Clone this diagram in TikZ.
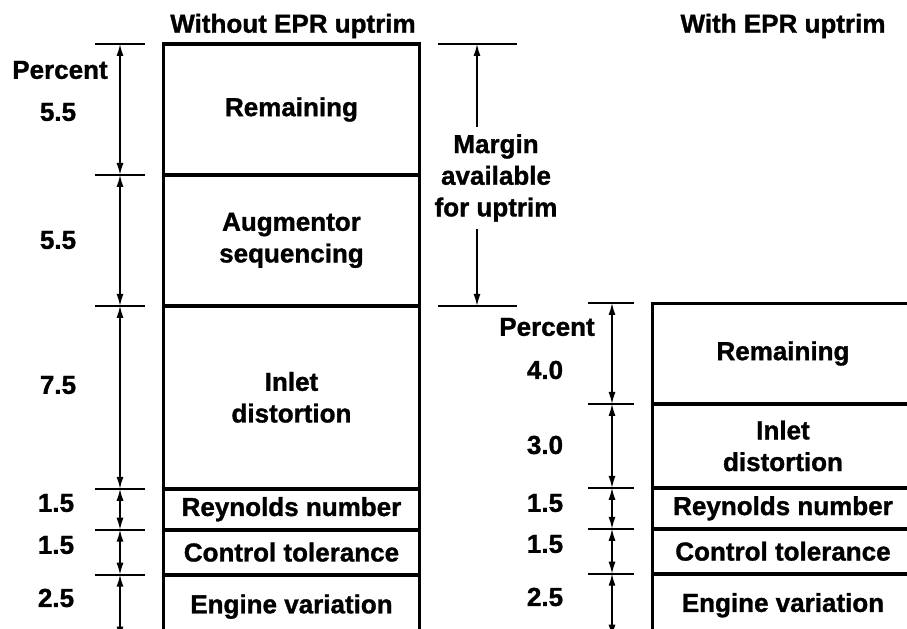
\documentclass[tikz,border=0pt]{standalone}
\usepackage{fontspec}
\setmainfont{Liberation Sans}[BoldFeatures={FakeBold=1.2}]
\usetikzlibrary{positioning,arrows.meta}

\begin{document}
\begin{tikzpicture}[node distance=0pt,
  every node/.style={font=\fontsize{14.8}{18}\selectfont\bfseries},
  seg/.style={draw, rectangle, line width=1.1pt, minimum width=5.1cm, inner sep=0pt, align=center},
  segR/.style={seg, minimum width=5.2cm},
  tick/.style={line width=1.1pt},
  dim/.style={{Latex[length=2.4mm,width=1.4mm]}-{Latex[length=2.4mm,width=1.4mm]}, line width=0.8pt},
  half/.style={-{Latex[length=2.4mm,width=1.4mm]}, line width=0.8pt}]
\clip (0,0) rectangle (18.14,12.56);

% Titles
\node (titleL) at (5.86,12.04) {Without EPR uptrim};
\node (titleR) at (15.66,12.04) {With EPR uptrim};

% Without EPR uptrim
\node[seg, minimum height=2.58cm, anchor=north west] (remL) at (3.26,11.68) {Remaining};
\node[seg, minimum height=2.58cm, below=of remL] (augL) {Augmentor\\sequencing};
\node[seg, minimum height=3.62cm, below=of augL] (inlL) {Inlet\\distortion};
\node[seg, minimum height=0.78cm, below=of inlL] (reyL) {Reynolds number};
\node[seg, minimum height=0.86cm, below=of reyL] (ctlL) {Control tolerance};
\node[seg, minimum height=1.24cm, below=of ctlL] (engL) {Engine variation};
\draw[line width=1.7pt] (remL.north west) rectangle (engL.south east);

% With EPR uptrim
\node[segR, minimum height=1.98cm, anchor=north west] (remR) at (13.04,6.5) {Remaining};
\node[segR, minimum height=1.64cm, below=of remR] (inlR) {Inlet\\distortion};
\node[segR, minimum height=0.78cm, below=of inlR] (reyR) {Reynolds number};
\node[segR, minimum height=0.86cm, below=of reyR] (ctlR) {Control tolerance};
\node[segR, minimum height=1.22cm, below=of ctlR] (engR) {Engine variation};
\draw[line width=1.7pt] (remR.north west) rectangle (engR.south east);

% Dimension points
\coordinate (a0) at (2.4,11.68);
\coordinate (a1) at (remL.south -| a0);
\coordinate (a2) at (augL.south -| a0);
\coordinate (a3) at (inlL.south -| a0);
\coordinate (a4) at (reyL.south -| a0);
\coordinate (a5) at (ctlL.south -| a0);
\coordinate (a6) at (engL.south -| a0);
\coordinate (m0) at (9.54,11.68);
\coordinate (m1) at (augL.south -| m0);
\coordinate (b0) at (12.24,6.5);
\coordinate (b1) at (remR.south -| b0);
\coordinate (b2) at (inlR.south -| b0);
\coordinate (b3) at (reyR.south -| b0);
\coordinate (b4) at (ctlR.south -| b0);
\coordinate (b5) at (engR.south -| b0);

% Ticks
\foreach \c in {a0,a1,a2,a3,a4,a5,a6}
  \draw[tick] ([xshift=-0.5cm]\c) -- ([xshift=0.5cm]\c);
\foreach \c in {m0,m1}
  \draw[tick] ([xshift=-0.78cm]\c) -- ([xshift=0.8cm]\c);
\foreach \c in {b0,b1,b2,b3,b4,b5}
  \draw[tick] ([xshift=-0.48cm]\c) -- ([xshift=0.44cm]\c);

% Arrows
\draw[dim] (a0) -- (a1);
\draw[dim] (a1) -- (a2);
\draw[dim] (a2) -- (a3);
\draw[dim] (a3) -- (a4);
\draw[dim] (a4) -- (a5);
\draw[dim] (a5) -- (a6);
\draw[dim] (b0) -- (b1);
\draw[dim] (b1) -- (b2);
\draw[dim] (b2) -- (b3);
\draw[dim] (b3) -- (b4);
\draw[dim] (b4) -- (b5);

% Margin
\node[align=center, inner sep=4pt] (margin) at (9.92,9.0) {Margin\\available\\for uptrim};
\draw[half] (m0 |- margin.north) -- (m0);
\draw[half] (m0 |- margin.south) -- (m1);

% Percent values
\node (pctL) at (1.2,11.16) {Percent};
\node (v1) at (1.16,10.32) {5.5};
\node (v2) at (1.16,7.76) {5.5};
\node (v3) at (1.16,4.86) {7.5};
\node (v4) at (1.12,2.5) {1.5};
\node (v5) at (1.12,1.66) {1.5};
\node (v6) at (1.12,0.6) {2.5};
\node (pctR) at (10.94,6.02) {Percent};
\node (w1) at (10.9,5.16) {4.0};
\node (w2) at (10.9,3.66) {3.0};
\node (w3) at (10.9,2.5) {1.5};
\node (w4) at (10.9,1.68) {1.5};
\node (w5) at (10.9,0.62) {2.5};
\end{tikzpicture}
\end{document}
